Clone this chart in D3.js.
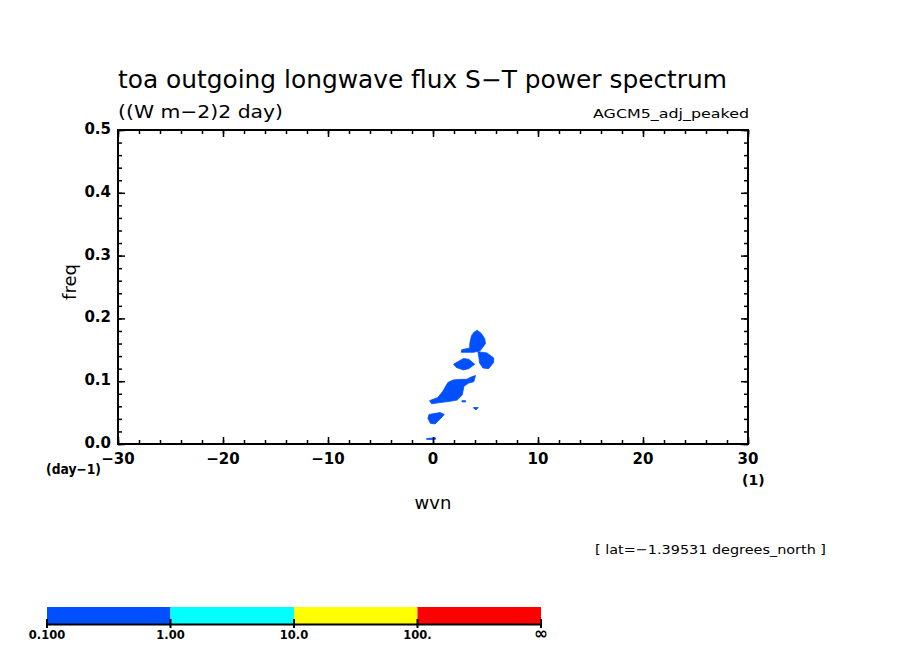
<!DOCTYPE html>
<html>
<head>
<meta charset="utf-8">
<script src="https://cdn.jsdelivr.net/npm/d3@7"></script>
<style>
  body { margin: 0; background: #fff; }
  text { font-family: "DejaVu Sans", sans-serif; fill: #000; }
</style>
</head>
<body>
<script>
// x = zonal wavenumber, y = frequency (day-1); each blob is one contour patch
var xTicks = [-30, -20, -10, 0, 10, 20, 30];
var yTicks = [0.0, 0.1, 0.2, 0.3, 0.4, 0.5];
var blobTop = [[4.22,0.181],[4.60,0.176],[4.92,0.168],[5.0,0.160],[4.70,0.153],[4.45,0.148],
               [3.84,0.146],[2.70,0.146],[2.73,0.150],[3.50,0.153],[3.50,0.160],[3.66,0.172],[3.90,0.178]];
var blobRight = [[4.28,0.147],[5.14,0.145],[5.78,0.137],[5.78,0.130],[5.30,0.120],[4.76,0.121],
                 [4.44,0.129],[4.38,0.137]];
var blobMid = [[1.96,0.127],[2.89,0.136],[3.40,0.135],[3.98,0.127],[3.40,0.120],[2.89,0.118],[2.22,0.122]];
var blobBig = [[4.05,0.109],[3.88,0.099],[3.40,0.097],[2.95,0.092],[2.78,0.078],[2.30,0.070],
               [1.62,0.068],[0.67,0.066],[-0.12,0.064],[-0.33,0.069],[0.46,0.074],[0.94,0.084],
               [1.42,0.098],[1.93,0.102],[2.73,0.103],[3.21,0.103],[3.69,0.107]];
var blobDot1 = [[2.76,0.069],[3.10,0.069],[3.10,0.067],[2.76,0.067]];
var blobDot2 = [[3.84,0.058],[4.31,0.058],[4.14,0.055],[4.0,0.055]];
var blobLow = [[-0.38,0.047],[0.67,0.050],[1.08,0.047],[0.52,0.037],[0.19,0.032],[-0.25,0.033],[-0.48,0.041]];
var blobTiny = [[-0.6,0.0088],[0.25,0.0098],[0.25,0.0074],[-0.6,0.0070]];
var blobs = [blobTop, blobRight, blobMid, blobBig, blobDot1, blobDot2, blobLow, blobTiny];

var levelLabels = ["0.100", "1.00", "10.0", "100.", "\u221e"];
var levelColors = ["#0050ff", "#00ffff", "#ffff00", "#ff0000"];

var W = 904, H = 654;
var svg = d3.select("body").append("svg").attr("width", W).attr("height", H);

var x = d3.scaleLinear().domain([-30, 30]).range([118, 748]);
var y = d3.scaleLinear().domain([0, 0.5]).range([444, 130]);

// filled contours (all in the 0.1-1 band)
var line = d3.line().x(function(d){ return x(d[0]); }).y(function(d){ return y(d[1]); })
             .curve(d3.curveLinearClosed);
svg.selectAll("path.blob").data(blobs).enter().append("path")
   .attr("class", "blob").attr("d", line).attr("fill", levelColors[0])
   .attr("stroke", levelColors[0]).attr("stroke-width", 0.8);

// ticks, inward on all four sides
function tickAxis(axisFn, scale, vals, size, tr) {
  svg.append("g").attr("transform", tr)
     .call(axisFn(scale).tickValues(vals).tickSize(-size).tickFormat(""))
     .call(function(g){ g.select(".domain").remove(); g.selectAll("line").attr("stroke-width", 1.5); });
}
var xMinor = d3.range(-30, 31, 2), yMinor = d3.range(0, 0.501, 0.02);
tickAxis(d3.axisBottom, x, xMinor, 4, "translate(0,444)");
tickAxis(d3.axisBottom, x, xTicks, 7, "translate(0,444)");
tickAxis(d3.axisTop, x, xMinor, 4, "translate(0,130)");
tickAxis(d3.axisTop, x, xTicks, 7, "translate(0,130)");
tickAxis(d3.axisLeft, y, yMinor, 4, "translate(118,0)");
tickAxis(d3.axisLeft, y, yTicks, 7, "translate(118,0)");
tickAxis(d3.axisRight, y, yMinor, 4, "translate(748,0)");
tickAxis(d3.axisRight, y, yTicks, 7, "translate(748,0)");

svg.append("rect").attr("x", 118).attr("y", 130).attr("width", 630).attr("height", 314)
   .attr("fill", "none").attr("stroke", "#000").attr("stroke-width", 2);

// tick labels
svg.selectAll("text.xl").data(xTicks).enter().append("text")
   .attr("x", function(d){ return x(d); }).attr("y", 464)
   .attr("text-anchor", "middle").attr("font-size", 15).attr("font-weight", "bold")
   .text(d3.format("d"));
svg.selectAll("text.yl").data(yTicks).enter().append("text")
   .attr("x", 111).attr("y", function(d){ return y(d) + 4; })
   .attr("text-anchor", "end").attr("font-size", 15).attr("font-weight", "bold")
   .text(d3.format(".1f"));

svg.append("text").attr("x", 46).attr("y", 474).attr("font-size", 14).attr("font-weight", "bold")
   .attr("textLength", 55).attr("lengthAdjust", "spacingAndGlyphs").text("(day\u22121)");
svg.append("text").attr("x", 742).attr("y", 485).attr("font-size", 14).attr("font-weight", "bold")
   .text("(1)");
svg.append("text").attr("x", 433).attr("y", 509).attr("text-anchor", "middle").attr("font-size", 18)
   .text("wvn");
svg.append("text").attr("transform", "translate(76,282) rotate(-90)").attr("text-anchor", "middle")
   .attr("font-size", 18).text("freq");

// titles
svg.append("text").attr("x", 118).attr("y", 88).attr("font-size", 24)
   .attr("textLength", 609).attr("lengthAdjust", "spacingAndGlyphs")
   .text("toa outgoing longwave flux S\u2212T power spectrum");
svg.append("text").attr("x", 118).attr("y", 118).attr("font-size", 18)
   .attr("textLength", 165).attr("lengthAdjust", "spacingAndGlyphs")
   .text("((W m\u22122)2 day)");
svg.append("text").attr("x", 749).attr("y", 118).attr("font-size", 13).attr("text-anchor", "end")
   .attr("textLength", 156).attr("lengthAdjust", "spacingAndGlyphs")
   .text("AGCM5_adj_peaked");
svg.append("text").attr("x", 595).attr("y", 554).attr("font-size", 13)
   .attr("textLength", 231).attr("lengthAdjust", "spacingAndGlyphs")
   .text("[ lat=\u22121.39531 degrees_north ]");

// colour bar
var cb = d3.scaleLinear().domain([0, levelColors.length]).range([47, 541]);
svg.selectAll("rect.cb").data(levelColors).enter().append("rect")
   .attr("x", function(d, i){ return cb(i); }).attr("y", 607)
   .attr("width", function(d, i){ return cb(i + 1) - cb(i); }).attr("height", 17)
   .attr("fill", function(d){ return d; });
svg.append("line").attr("x1", cb(0)).attr("x2", cb(4)).attr("y1", 624.5).attr("y2", 624.5)
   .attr("stroke", "#000").attr("stroke-width", 2);
svg.selectAll("line.cbt").data(levelLabels).enter().append("line")
   .attr("x1", function(d, i){ return cb(i); }).attr("x2", function(d, i){ return cb(i); })
   .attr("y1", 619).attr("y2", 628).attr("stroke", "#000").attr("stroke-width", 2);
svg.selectAll("text.cbl").data(levelLabels).enter().append("text")
   .attr("x", function(d, i){ return cb(i); }).attr("y", 639)
   .attr("text-anchor", "middle").attr("font-weight", "bold")
   .attr("font-size", function(d, i){ return i === levelLabels.length - 1 ? 17 : 11.5; })
   .text(function(d){ return d; });
</script>
</body>
</html>
